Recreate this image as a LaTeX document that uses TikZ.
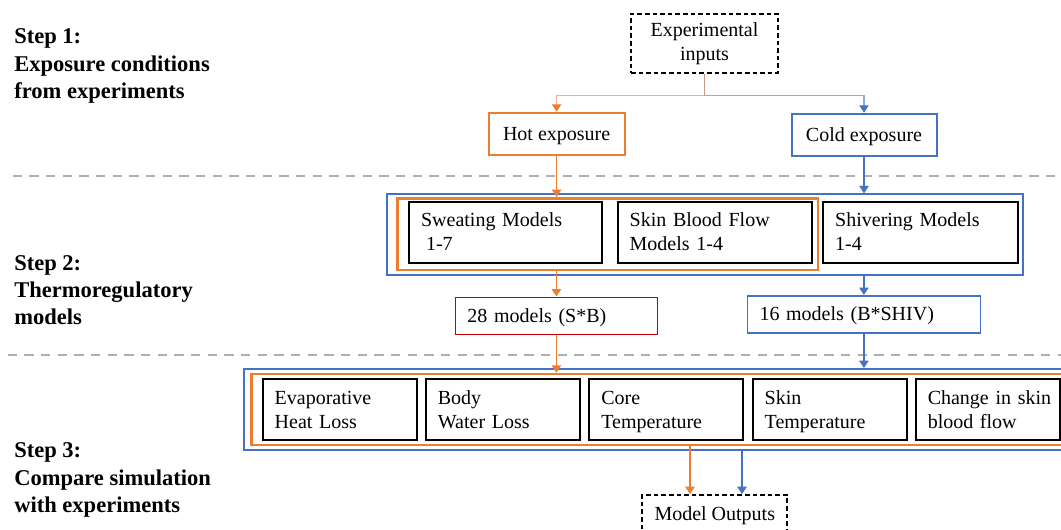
\documentclass[tikz,border=0pt]{standalone}
\usepackage{fontspec}
\setmainfont{Liberation Serif}
\usetikzlibrary{arrows.meta}
\definecolor{cOrange}{HTML}{ED7D31}
\definecolor{cBlue}{HTML}{4472C4}
\definecolor{cRed}{HTML}{C00000}
\definecolor{cGray}{HTML}{AFAFAF}
\definecolor{cOrangeL}{HTML}{F4B183}
\definecolor{cBlueL}{HTML}{8FAADC}
\definecolor{cStub}{HTML}{C49A86}
\tikzset{
  vstrut/.style={execute at begin node={\rule{0pt}{13.3pt}}, execute at end node={\rule[-3.3pt]{0pt}{3.3pt}}},
  boxfont/.style={font=\fontsize{15pt}{18pt}\selectfont, vstrut},
  stepfont/.style={font=\fontsize{16.9pt}{20.5pt}\selectfont\bfseries},
  blk/.style={draw=black, line width=1.5pt, boxfont, align=left, inner xsep=9pt, inner ysep=0pt, minimum height=45.75pt},
  dashbox/.style={draw=black, line width=1.4pt, dash pattern=on 3.4pt off 2.3pt, boxfont, align=center, inner sep=0pt},
  hotbox/.style={draw=cOrange, line width=1.5pt, boxfont, align=center, inner sep=0pt, minimum height=32pt},
  coldbox/.style={draw=cBlue, line width=1.5pt, boxfont, align=center, inner sep=0pt, minimum height=32pt},
  grpO/.style={draw=cOrange, line width=1.9pt, inner sep=0pt},
  grpB/.style={draw=cBlue, line width=1.5pt, inner sep=0pt},
  sumbox/.style={line width=1.2pt, boxfont, align=left, inner xsep=9pt, inner ysep=0pt, minimum height=27.75pt},
  sepline/.style={draw=cGray, line width=2pt, dash pattern=on 7pt off 5.5pt},
  oarr/.style={draw=cOrange, line width=0.9pt, -{Triangle[length=5.5pt,width=7pt,color=cOrange]}},
  barr/.style={draw=cBlue, line width=0.9pt, -{Triangle[length=5.5pt,width=7pt,color=cBlue]}},
  oarrL/.style={draw=cOrangeL, line width=0.9pt, -{Triangle[length=5.5pt,width=7pt,color=cOrange]}},
  barrL/.style={draw=cBlueL, line width=0.9pt, -{Triangle[length=5.5pt,width=7pt,color=cBlue]}},
}
\begin{document}
\begin{tikzpicture}[x=0.75pt,y=-0.75pt]
\useasboundingbox (0,0) rectangle (1061,529);
\clip (0,0) rectangle (1061,529);
\fill[white] (0,0) rectangle (1061,529);

% separators
\draw[sepline] (12.5,176) -- (1080,176);
\draw[sepline] (7.5,355) -- (1080,355);

% step labels
\node[stepfont, anchor=west, align=left, inner sep=0pt] (s1) at (14,66) {Step 1:\\Exposure conditions\\from experiments};
\node[stepfont, anchor=west, align=left, inner sep=0pt] (s2) at (14,290) {Step 2:\\Thermoregulatory\\models};
\node[stepfont, anchor=west, align=left, inner sep=0pt] (s3) at (14,480) {Step 3:\\Compare simulation\\with experiments};

% step 1
\node[dashbox, minimum width=110.25pt, minimum height=44.25pt] (exp) at (704.5,43.5) {Experimental\\inputs};
\node[hotbox, minimum width=102pt] (hot) at (556.6,134) {Hot exposure};
\node[coldbox, minimum width=108.75pt] (cold) at (864,135) {Cold exposure};

% step 2
\node[grpB, minimum width=476.7pt, minimum height=60.5pt] (g2b) at (705.2,234.65) {};
\node[grpO, minimum width=315.45pt, minimum height=53.8pt] (g2o) at (607.7,234.15) {};
\node[blk, text width=126.4pt] (sweat) at (505.35,232.2) {Sweating Models\\\hspace*{0.25em}1-7};
\node[blk, text width=127.35pt] (sbf) at (714.6,232.2) {Skin Blood Flow\\Models 1-4};
\node[blk, text width=127.95pt] (shiv) at (920.5,232.2) {Shivering Models\\1-4};
\node[sumbox, draw=cRed, text width=133.5pt] (m28) at (556.4,315.8) {28 models (S*B)};
\node[sumbox, draw=cBlue, text width=156.6pt] (m16) at (863.9,314.2) {16 models (B*SHIV)};

% step 3
\node[grpB, minimum width=626.85pt, minimum height=60.75pt] (g3b) at (662.1,409.5) {};
\node[grpO, minimum width=615.4pt, minimum height=53.25pt] (g3o) at (661.75,409.5) {};
\node[blk, text width=97.5pt] (evap) at (339.7,409.5) {Evaporative\\Heat Loss};
\node[blk, text width=97.5pt] (body) at (502.9,409.5) {Body\\Water Loss};
\node[blk, text width=97.5pt] (core) at (666.3,409.5) {Core\\Temperature};
\node[blk, text width=97.5pt] (skin) at (829.7,409.5) {Skin\\Temperature};
\node[blk, text width=90.2pt] (chg) at (987.9,409.5) {\mbox{Change in skin}\\blood flow};
\node[dashbox, minimum width=108.6pt, minimum height=28.5pt] (out) at (714.8,514) {Model Outputs};
\coordinate (outL) at ([xshift=-18.6pt]out.north);
\coordinate (outR) at ([xshift=20.4pt]out.north);

% connectors
\draw[oarrL] (exp.south) -- ++(0,21.3) -| (hot.north);
\draw[barrL] (exp.south) -- ++(0,21.3) -| (cold.north);
\draw[draw=cStub, line width=0.9pt] (exp.south) -- ++(0,21.3);
\draw[oarr] (hot.south) -- (hot.south |- g2o.north);
\draw[barr] (cold.south) -- (cold.south |- g2b.north);
\draw[oarr] (m28.north |- g2o.south) -- (m28.north);
\draw[barr] (m16.north |- g2b.south) -- (m16.north);
\draw[oarr] (m28.south) -- (m28.south |- g3o.north);
\draw[barr] (m16.south) -- (m16.south |- g3b.north);
\draw[oarr] (outL |- g3o.south) -- (outL);
\draw[barr] (outR |- g3b.south) -- (outR);
\end{tikzpicture}
\end{document}
